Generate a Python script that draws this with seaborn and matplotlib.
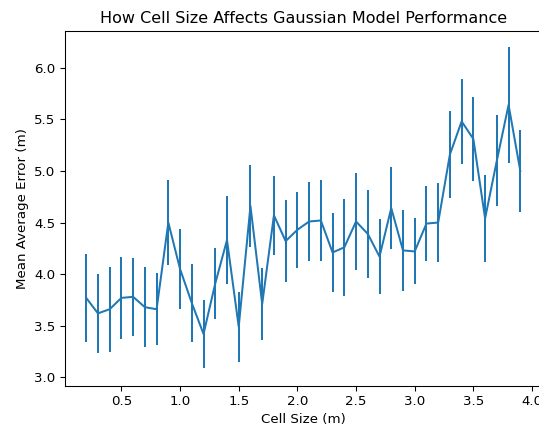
import numpy as np
import pandas as pd
import matplotlib
matplotlib.use("Agg")
import matplotlib.pyplot as plt
import seaborn as sns

# Cell sizes (m) and the corresponding mean error with its spread
cell_size = [0.2, 0.3, 0.4, 0.5, 0.6, 0.7, 0.8, 0.9, 1.0, 1.1,
             1.2, 1.3, 1.4, 1.5, 1.6, 1.7, 1.8, 1.9, 2.0, 2.1,
             2.2, 2.3, 2.4, 2.5, 2.6, 2.7, 2.8, 2.9, 3.0, 3.1,
             3.2, 3.3, 3.4, 3.5, 3.6, 3.7, 3.8, 3.9]
mean_error = [3.77, 3.62, 3.66, 3.77, 3.78, 3.68, 3.66, 4.50, 4.05, 3.72,
              3.42, 3.91, 4.33, 3.49, 4.66, 3.71, 4.57, 4.32, 4.43, 4.51,
              4.52, 4.21, 4.26, 4.51, 4.39, 4.17, 4.64, 4.23, 4.22, 4.49,
              4.50, 5.16, 5.48, 5.31, 4.54, 5.10, 5.64, 5.00]
error_spread = [0.43, 0.38, 0.41, 0.40, 0.38, 0.39, 0.35, 0.41, 0.39, 0.38,
                0.33, 0.34, 0.43, 0.34, 0.40, 0.35, 0.38, 0.40, 0.37, 0.38,
                0.39, 0.38, 0.47, 0.47, 0.43, 0.36, 0.40, 0.39, 0.32, 0.36,
                0.38, 0.42, 0.41, 0.41, 0.42, 0.44, 0.56, 0.40]

df = pd.DataFrame({"cell_size": cell_size, "mean_error": mean_error,
                   "spread": error_spread})

DPI = 96
fig = plt.figure(figsize=(539 / DPI, 429 / DPI), dpi=DPI)
W, H = 539, 429
left, right, top, bottom = 64.5, 542.0, 31.0, 385.7
ax = fig.add_axes([left / W, 1 - bottom / H, (right - left) / W, (bottom - top) / H])

color = "#1f77b4"
sns.lineplot(data=df, x="cell_size", y="mean_error", ax=ax, color=color,
             linewidth=1.5, errorbar=None)
ax.errorbar(df["cell_size"], df["mean_error"], yerr=df["spread"],
            fmt="none", ecolor=color, elinewidth=1.5)

ax.set_title("How Cell Size Affects Gaussian Model Performance", fontsize=12)
ax.set_xlabel("Cell Size (m)", fontsize=10)
ax.set_ylabel("Mean Average Error (m)", fontsize=10)
ax.set_xticks([0.5, 1.0, 1.5, 2.0, 2.5, 3.0, 3.5, 4.0])
ax.set_yticks([3.0, 3.5, 4.0, 4.5, 5.0, 5.5, 6.0])
ax.set_xlim(0.015, 4.085)
ax.set_ylim(2.919, 6.356)

fig.savefig("out.png", dpi=DPI)
